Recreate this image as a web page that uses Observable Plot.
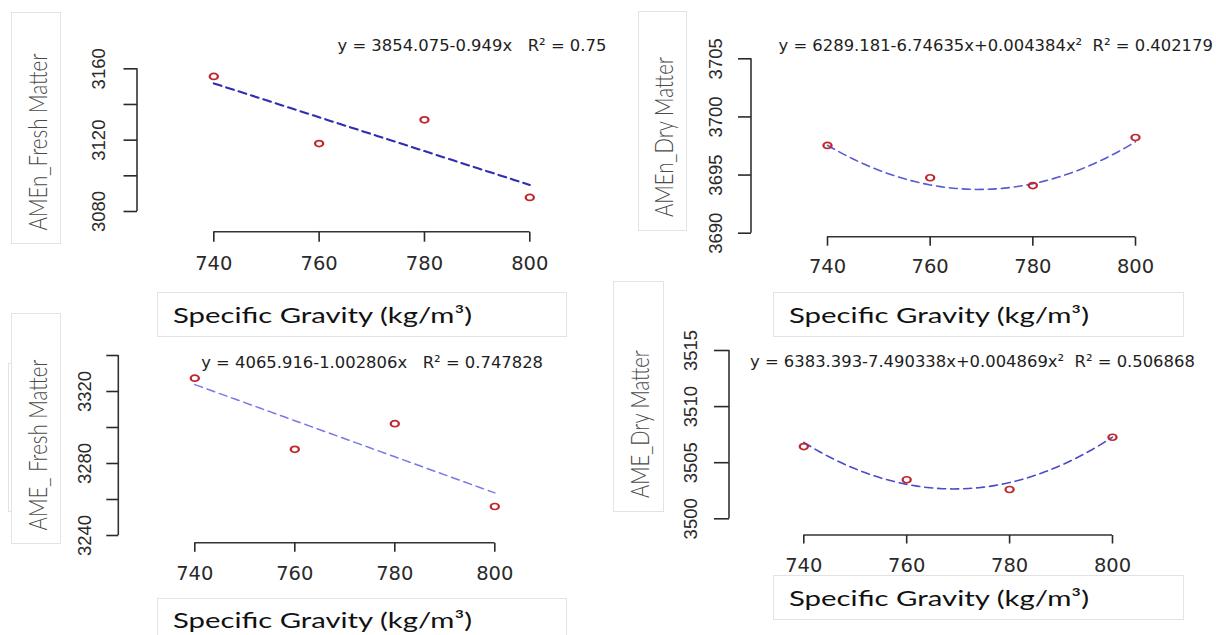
<!DOCTYPE html>
<html><head><meta charset="utf-8">
<script src="https://cdn.jsdelivr.net/npm/d3@7"></script>
<script src="https://cdn.jsdelivr.net/npm/@observablehq/plot@0.6"></script>
<style>
html,body{margin:0;padding:0;background:#fff;}
#root{position:relative;width:1216px;height:635px;overflow:hidden;background:#fff;}
.panel{position:absolute;}
.panel svg{display:block;overflow:hidden;}
.panel svg circle{transform-box:fill-box;transform-origin:center;transform:scaleX(1.35);}
.box{position:absolute;background:#fff;border:1px solid #e3e3e3;box-sizing:border-box;}
.ylab{position:absolute;white-space:nowrap;font-family:Lato,"Open Sans",sans-serif;font-weight:300;color:#4a4a4a;font-size:20px;line-height:1;}
.xlab{position:absolute;white-space:nowrap;font-family:Lato,"Open Sans",sans-serif;color:#111;font-size:22px;line-height:1;transform-origin:left center;}
</style></head><body><div id="root"></div>
<script>
// ---------- data ----------
const specificGravity = [740, 760, 780, 800];

const amenFresh = [3155.7, 3118.1, 3131.4, 3087.9];
const amenDry   = [3697.55, 3694.77, 3694.1, 3698.23];
const ameFresh  = [3327.4, 3287.9, 3302.1, 3256.1];
const ameDry    = [3506.44, 3503.48, 3502.61, 3507.27];

const amenFreshTicks = [3080, 3100, 3120, 3140, 3160];
const amenFreshTickLabels = [3080, 3120, 3160];
const amenDryTicks = [3690, 3695, 3700, 3705];
const amenDryTickLabels = [3690, 3695, 3700, 3705];
const ameFreshTicks = [3240, 3260, 3280, 3300, 3320, 3340];
const ameFreshTickLabels = [3240, 3280, 3320];
const ameDryTicks = [3500, 3505, 3510, 3515];
const ameDryTickLabels = [3500, 3505, 3510, 3515];

// fitted equations shown on the chart (intercept, x, x^2)
const amenFreshCoef = [3854.075, -0.949];
const amenDryCoef   = [6289.181, -6.74635, 0.004384];
const ameFreshCoef  = [4065.916, -1.002806];
const ameDryCoef    = [6383.393, -7.490338, 0.004869];

const amenFreshEq = "y = 3854.075-0.949x\u00a0\u00a0\u00a0R² = 0.75";
const amenDryEq   = "y = 6289.181-6.74635x+0.004384x²\u00a0\u00a0R² = 0.402179";
const ameFreshEq  = "y = 4065.916-1.002806x\u00a0\u00a0\u00a0R² = 0.747828";
const ameDryEq    = "y = 6383.393-7.490338x+0.004869x²\u00a0\u00a0R² = 0.506868";

const xTitle = "Specific Gravity (kg/m³)";
const yTitles = ["AMEn_Fresh Matter", "AMEn_Dry Matter", "AME_ Fresh Matter", "AME_Dry Matter"];

// ---------- layout (pixels) ----------
const panels = [
  {values: amenFresh, ticks: amenFreshTicks, labels: amenFreshTickLabels, coef: amenFreshCoef, eq: amenFreshEq,
   left: 0, top: 0, w: 607, h: 290, axisX: 137, axisY: 231.7, xPx: [213.3, 529.3], yPx: [211, 68.3],
   eqX: 337, eqY: 45, yTick: 13.5, yPad: 19, xTick: 10, xPad: 14, lineColor: "#2e2eb0", lineW: 2.1},
  {values: amenDry, ticks: amenDryTicks, labels: amenDryTickLabels, coef: amenDryCoef, eq: amenDryEq,
   left: 607, top: 0, w: 609, h: 290, axisX: 751, axisY: 236.7, xPx: [827, 1135], yPx: [232.7, 58.3],
   eqX: 778, eqY: 45, yTick: 13, yPad: 17, xTick: 9, xPad: 13, lineColor: "#5a5ad2", lineW: 1.6},
  {values: ameFresh, ticks: ameFreshTicks, labels: ameFreshTickLabels, coef: ameFreshCoef, eq: ameFreshEq,
   left: 0, top: 290, w: 607, h: 345, axisX: 118.3, axisY: 542.7, xPx: [194.3, 494.3], yPx: [535, 355],
   eqX: 200.7, eqY: 362.3, yTick: 12, yPad: 16, xTick: 9, xPad: 13.5, lineColor: "#7878e6", lineW: 1.5},
  {values: ameDry, ticks: ameDryTicks, labels: ameDryTickLabels, coef: ameDryCoef, eq: ameDryEq,
   left: 607, top: 290, w: 609, h: 345, axisX: 729, axisY: 535, xPx: [803.3, 1112], yPx: [518.3, 350],
   eqX: 749.5, eqY: 361.7, yTick: 15, yPad: 18, xTick: 8.5, xPad: 14, lineColor: "#4a4acb", lineW: 1.6}
];

const yBoxes = [
  {x: 10.5, y: 12.3, w: 50.5, h: 232, cx: 37, cy: 141.7, len: 177},
  {x: 638, y: 10.7, w: 49, h: 220, cx: 662.6, cy: 136.7, len: 160},
  {x: 10.5, y: 313.3, w: 50.5, h: 231, cx: 37, cy: 444.7, len: 171},
  {x: 613, y: 281, w: 50.5, h: 231, cx: 639, cy: 424, len: 148}
];
const xBoxes = [
  {x: 157, y: 292, w: 410, h: 44.5, tx: 173, ty: 315, tw: 299},
  {x: 773, y: 292, w: 411, h: 45, tx: 789, ty: 315, tw: 300},
  {x: 157, y: 598, w: 410, h: 45, tx: 173, ty: 620, tw: 299},
  {x: 773, y: 575, w: 411, h: 45, tx: 789, ty: 598, tw: 300}
];

// ---------- drawing ----------
const root = document.getElementById("root");

function axisLines(xTicks, yTicks) {
  return (index, scales, values, dims) => {
    const g = d3.create("svg:g").attr("stroke", "#333").attr("stroke-width", 1.6).attr("fill", "none");
    const x0 = dims.marginLeft, yb = dims.height - dims.marginBottom;
    g.append("line").attr("x1", x0).attr("x2", x0)
      .attr("y1", scales.y(d3.min(yTicks))).attr("y2", scales.y(d3.max(yTicks)));
    g.append("line").attr("y1", yb).attr("y2", yb)
      .attr("x1", scales.x(d3.min(xTicks))).attr("x2", scales.x(d3.max(xTicks)));
    return g.node();
  };
}

panels.forEach((p) => {
  const pts = specificGravity.map((x, i) => ({x, y: p.values[i]}));
  const [x0, x1] = d3.extent(specificGravity);
  const fitX = d3.range(0, 61).map(i => x0 + (x1 - x0) * i / 60);
  const fit = fitX.map(x => ({x, y: p.coef.reduce((s, c, k) => s + c * Math.pow(x, k), 0)}));
  const svg = Plot.plot({
    width: p.w, height: p.h,
    marginLeft: p.axisX - p.left, marginRight: 0, marginTop: 0,
    marginBottom: p.h - (p.axisY - p.top),
    x: {domain: [x0, x1], range: [p.xPx[0] - p.left, p.xPx[1] - p.left]},
    y: {domain: d3.extent(p.ticks), range: [p.yPx[0] - p.top, p.yPx[1] - p.top]},
    style: {background: "transparent", overflow: "hidden", fontFamily: "DejaVu Sans"},
    marks: [
      axisLines(specificGravity, p.ticks),
      Plot.axisX(specificGravity, {anchor: "bottom", tickSize: p.xTick, tickPadding: p.xPad,
        tickFormat: d => String(d), label: null, color: "#2a2a2a", strokeWidth: 1.6,
        fontSize: 19.5, fontFamily: "DejaVu Sans"}),
      Plot.axisY(p.ticks, {anchor: "left", tickSize: p.yTick, tickPadding: p.yPad, tickRotate: -90,
        tickFormat: d => p.labels.includes(d) ? String(d) : "", label: null, color: "#2a2a2a",
        strokeWidth: 1.6, fontSize: 18.5, fontFamily: "Liberation Sans, Arial, sans-serif"}),
      Plot.line(fit, {x: "x", y: "y", stroke: p.lineColor, strokeWidth: p.lineW, strokeDasharray: "8,5"}),
      Plot.dot(pts, {x: "x", y: "y", r: 3, stroke: "#c0262c", strokeWidth: 1.7, fill: "none"}),
      Plot.text([p.eq], {text: d => d, frameAnchor: "top-left", dx: p.eqX - p.axisX, dy: p.eqY - p.top,
        textAnchor: "start", lineAnchor: "middle", fontSize: 16.4, fontFamily: "DejaVu Sans", fill: "#1e1e1e"})
    ]
  });
  const div = document.createElement("div");
  div.className = "panel";
  div.style.left = p.left + "px";
  div.style.top = p.top + "px";
  div.style.width = p.w + "px";
  div.style.height = p.h + "px";
  div.appendChild(svg);
  root.appendChild(div);
});

// extra partial box behind the third y title
{
  const b = document.createElement("div");
  b.className = "box";
  Object.assign(b.style, {left: "8px", top: "363px", width: "40px", height: "149px"});
  root.appendChild(b);
}

yBoxes.forEach((b, i) => {
  const box = document.createElement("div");
  box.className = "box";
  Object.assign(box.style, {left: b.x + "px", top: b.y + "px", width: b.w + "px", height: b.h + "px"});
  root.appendChild(box);
  const s = document.createElement("span");
  s.className = "ylab";
  s.textContent = yTitles[i];
  s.style.left = b.cx + "px";
  s.style.top = b.cy + "px";
  root.appendChild(s);
  const w = s.getBoundingClientRect().width;
  s.style.transform = `translate(-50%,-50%) scale(1.3, ${b.len / w}) rotate(-90deg)`;
});

xBoxes.forEach((b) => {
  const box = document.createElement("div");
  box.className = "box";
  Object.assign(box.style, {left: b.x + "px", top: b.y + "px", width: b.w + "px", height: b.h + "px"});
  root.appendChild(box);
  const s = document.createElement("span");
  s.className = "xlab";
  s.textContent = xTitle;
  s.style.left = b.tx + "px";
  s.style.top = b.ty + "px";
  root.appendChild(s);
  const w = s.getBoundingClientRect().width;
  s.style.transform = `translate(0,-50%) scaleX(${b.tw / w})`;
});
</script></body></html>
